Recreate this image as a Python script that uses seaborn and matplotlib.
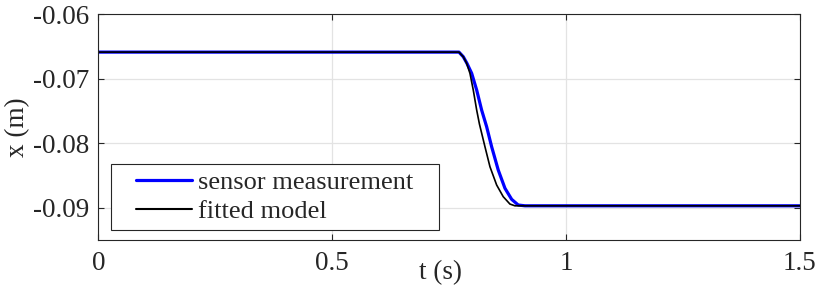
import pandas as pd
import matplotlib
matplotlib.use("Agg")
import matplotlib.pyplot as plt
import seaborn as sns
from matplotlib.patches import Rectangle

# values
t_sensor = [0.0, 0.7708, 0.7800, 0.7879, 0.7980, 0.8087, 0.8193, 0.8300,
            0.8407, 0.8548, 0.8692, 0.8835, 0.8976, 0.9119, 1.5]
x_sensor = [-0.0659, -0.0659, -0.06661, -0.06764, -0.06918, -0.07177, -0.07487,
            -0.07745, -0.08055, -0.08416, -0.08699, -0.08870, -0.08958, -0.0897, -0.0897]

t_model = [0.0, 0.7708, 0.7800, 0.7873, 0.7943, 0.8014, 0.8087, 0.8146,
           0.8264, 0.8371, 0.8514, 0.8655, 0.8798, 0.8905, 1.5]
x_model = [-0.0659, -0.0659, -0.06661, -0.06764, -0.06918, -0.07177, -0.07487,
           -0.07704, -0.08055, -0.08365, -0.08648, -0.08829, -0.08943, -0.0897, -0.0897]

xticks = [0, 0.5, 1, 1.5]
xtick_labels = ["0", "0.5", "1", "1.5"]
yticks = [-0.09, -0.08, -0.07, -0.06]
ytick_labels = ["-0.09", "-0.08", "-0.07", "-0.06"]

sns.set_theme(style="ticks")
plt.rcParams['font.family'] = ['Liberation Serif', 'DejaVu Serif']
plt.rcParams['axes.unicode_minus'] = False

dark = "#262626"

df_sensor = pd.DataFrame({'t': t_sensor, 'x': x_sensor})
df_model = pd.DataFrame({'t': t_model, 'x': x_model})

fig = plt.figure(figsize=(8.22, 2.92), dpi=100)
ax = fig.add_axes([0.1198, 0.178, 0.8534, 0.774])

sns.lineplot(data=df_sensor, x='t', y='x', sort=False, estimator=None,
             color='#0000ff', linewidth=2.3, label='sensor measurement', ax=ax)
sns.lineplot(data=df_model, x='t', y='x', sort=False, estimator=None,
             color='black', linewidth=1.2, label='fitted model', ax=ax)

ax.set_xlim(0, 1.5)
ax.set_ylim(-0.095, -0.06)
ax.set_xticks(xticks)
ax.set_xticklabels(xtick_labels)
ax.set_yticks(yticks)
ax.set_yticklabels(ytick_labels)

ax.grid(True, color='#e3e3e3', linewidth=0.9)
ax.set_axisbelow(True)
for side in ['top', 'right', 'bottom', 'left']:
    ax.spines[side].set_visible(True)
    ax.spines[side].set_color(dark)
    ax.spines[side].set_linewidth(0.8)
ax.tick_params(direction='in', length=4, width=0.8, colors=dark,
               labelsize=19.5, top=True, right=True)
ax.tick_params(axis='x', pad=8)
ax.tick_params(axis='y', pad=7)

ax.set_xlabel('t (s)', fontsize=19.5, color=dark)
ax.set_ylabel('x (m)', fontsize=19.5, color=dark)
ax.xaxis.set_label_coords(0.487, -0.09)
ax.yaxis.set_label_coords(-0.098, 0.5)

# MATLAB-like legend box: wide side margins, tight top/bottom
box = (0.0174, 0.0442, 0.468, 0.292)
ax.add_patch(Rectangle(box[:2], box[2], box[3], transform=ax.transAxes,
                       facecolor='white', edgecolor=dark, linewidth=0.8, zorder=4))
leg = ax.legend(loc='center', bbox_to_anchor=box, fontsize=19,
                frameon=False, handlelength=2.14, handletextpad=0.23,
                labelspacing=0.2, borderpad=0, borderaxespad=0)
leg.set_zorder(5)
leg.get_lines()[0].set_linewidth(2.3)
leg.get_lines()[1].set_linewidth(1.5)

plt.savefig('out.png', dpi=100)
